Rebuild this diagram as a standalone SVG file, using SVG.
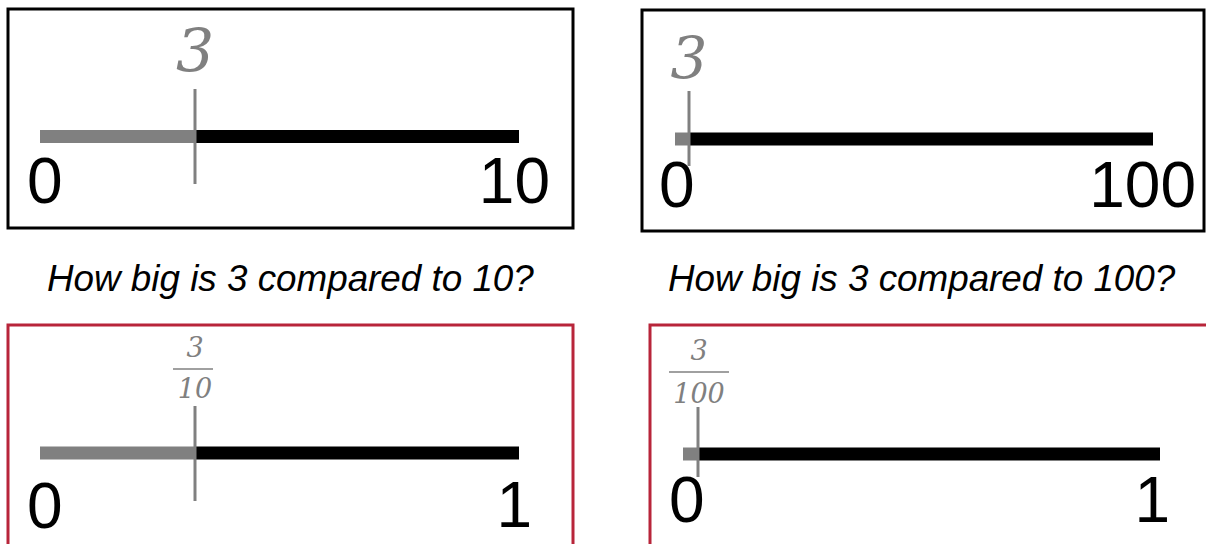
<svg xmlns="http://www.w3.org/2000/svg" width="1206" height="544" viewBox="0 0 1206 544">
<style>
.box{fill:#fff;stroke:#000;stroke-width:3}
.rbox{fill:#fff;stroke:#B8253A;stroke-width:3}
.g{stroke:#808080;stroke-width:13}
.b{stroke:#000;stroke-width:13}
.tick{stroke:#808080;stroke-width:3}
.num{font-family:"Liberation Sans",Arial,sans-serif;font-size:64px;fill:#000}
.mark{font-family:"DejaVu Serif",serif;font-style:italic;fill:#808080;text-anchor:middle}
.q{font-family:"Liberation Sans",Arial,sans-serif;font-style:italic;font-size:36.8px;fill:#000}
.fl{stroke:#808080;stroke-width:1.5}
</style>
<rect width="1206" height="544" fill="#fff"/>
<g id="panel-3-of-10">
<rect class="box" x="8" y="9" width="565" height="219"/>
<line class="g" x1="40" y1="136.5" x2="195" y2="136.5"/>
<line class="b" x1="195" y1="136.5" x2="519" y2="136.5"/>
<line class="tick" x1="195" y1="89" x2="195" y2="184"/>
<text class="mark" x="195" y="72" font-size="60">3</text>
<text class="num" x="27" y="203">0</text>
<text class="num" x="550" y="203" text-anchor="end">10</text>
</g>
<g id="panel-3-of-100">
<rect class="box" x="642" y="10" width="562" height="221"/>
<line class="g" x1="675" y1="139" x2="689" y2="139"/>
<line class="b" x1="689" y1="139" x2="1153" y2="139"/>
<line class="tick" x1="689" y1="91" x2="689" y2="166"/>
<text class="mark" x="689" y="78" font-size="58">3</text>
<text class="num" x="659" y="207">0</text>
<text class="num" x="1196" y="207" text-anchor="end">100</text>
</g>
<text id="q1" class="q" x="47" y="291">How big is 3 compared to 10?</text>
<text id="q2" class="q" x="668" y="291">How big is 3 compared to 100?</text>
<g id="panel-3-tenths">
<rect class="rbox" x="8" y="325" width="565" height="240"/>
<line class="g" x1="40" y1="453" x2="195" y2="453"/>
<line class="b" x1="195" y1="453" x2="519" y2="453"/>
<line class="tick" x1="195" y1="406" x2="195" y2="501"/>
<text class="mark" x="195" y="357" font-size="27">3</text>
<line class="fl" x1="173" y1="369" x2="213" y2="369"/>
<text class="mark" x="195" y="398" font-size="27">10</text>
<text class="num" x="27" y="528">0</text>
<text class="num" x="532" y="527" text-anchor="end">1</text>
</g>
<g id="panel-3-hundredths">
<rect class="rbox" x="650" y="325" width="600" height="240"/>
<line class="g" x1="683" y1="454" x2="698" y2="454"/>
<line class="b" x1="698" y1="454" x2="1160" y2="454"/>
<line class="tick" x1="698" y1="407" x2="698" y2="477"/>
<text class="mark" x="699" y="360" font-size="27">3</text>
<line class="fl" x1="669" y1="372" x2="729" y2="372"/>
<text class="mark" x="699" y="403" font-size="27">100</text>
<text class="num" x="669" y="522">0</text>
<text class="num" x="1170" y="522" text-anchor="end">1</text>
</g>
</svg>
